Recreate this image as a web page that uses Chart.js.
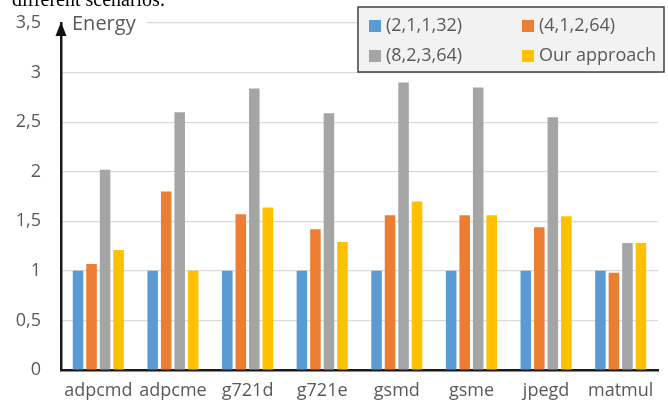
<!DOCTYPE html>
<html>
<head>
<meta charset="utf-8">
<script src="https://cdn.jsdelivr.net/npm/chart.js@4/dist/chart.umd.min.js"></script>
<style>
html,body{margin:0;padding:0;background:#fff;}
canvas{display:block;}
</style>
</head>
<body>
<canvas id="c" width="668" height="409"></canvas>
<script>
const categories = ['adpcmd','adpcme','g721d','g721e','gsmd','gsme','jpegd','matmul'];
const seriesLabels = ['(2,1,1,32)','(4,1,2,64)','(8,2,3,64)','Our approach'];
const s1 = [1, 1, 1, 1, 1, 1, 1, 1];
const s2 = [1.07, 1.80, 1.57, 1.42, 1.56, 1.56, 1.44, 0.98];
const s3 = [2.02, 2.60, 2.84, 2.59, 2.90, 2.85, 2.55, 1.28];
const s4 = [1.21, 1.00, 1.64, 1.29, 1.70, 1.56, 1.55, 1.28];
const yTicks = [0, 0.5, 1, 1.5, 2, 2.5, 3, 3.5];
const colors = ['#5b9bd5','#ed7d31','#a5a5a5','#ffc000'];
const FONT = '"Open Sans", sans-serif';
const TXT = '#595959';

const extras = {
  id: 'extras',
  afterDraw(chart) {
    const ctx = chart.ctx;
    const ca = chart.chartArea;
    const y = chart.scales.y;
    ctx.save();
    const y35 = y.getPixelForValue(3.5);
    ctx.fillStyle = '#fff';
    ctx.fillRect(ca.left + 2, y35 - 3, 84, 6);
    ctx.fillStyle = '#111';
    ctx.beginPath();
    ctx.moveTo(ca.left, y35 - 1);
    ctx.lineTo(ca.left - 5.5, y35 + 13);
    ctx.lineTo(ca.left + 5.5, y35 + 13);
    ctx.closePath();
    ctx.fill();
    ctx.fillStyle = TXT;
    ctx.font = '20px ' + FONT;
    ctx.textBaseline = 'middle';
    ctx.textAlign = 'left';
    ctx.fillText('Energy', ca.left + 11, y35 + 1);
    ctx.fillStyle = '#000';
    ctx.font = '20px "Liberation Serif", serif';
    ctx.textBaseline = 'alphabetic';
    ctx.fillText('different scenarios.', 12, 6);
    const bx = 358, by = 7, bw = 306, bh = 65;
    ctx.fillStyle = '#f2f2f2';
    ctx.fillRect(bx, by, bw, bh);
    ctx.strokeStyle = '#404040';
    ctx.lineWidth = 1.5;
    ctx.strokeRect(bx, by, bw, bh);
    const pos = [[369, 26], [522, 26], [369, 56], [522, 56]];
    ctx.font = '18px ' + FONT;
    ctx.textBaseline = 'middle';
    chart.data.datasets.forEach((ds, i) => {
      const [px, py] = pos[i];
      ctx.fillStyle = ds.backgroundColor;
      ctx.fillRect(px, py - 6, 12, 12);
      ctx.fillStyle = TXT;
      ctx.fillText(ds.label, px + 17, py);
    });
    ctx.restore();
  }
};

new Chart(document.getElementById('c'), {
  type: 'bar',
  data: {
    labels: categories,
    datasets: [s1, s2, s3, s4].map((d, i) => ({
      label: seriesLabels[i],
      data: d,
      backgroundColor: colors[i],
      borderWidth: 0,
      categoryPercentage: 0.724,
      barPercentage: 0.78
    }))
  },
  options: {
    responsive: false,
    animation: false,
    layout: { padding: { top: 23, right: 10, bottom: 0, left: 0 } },
    plugins: { legend: { display: false }, tooltip: { enabled: false } },
    scales: {
      x: {
        afterFit(scale) { scale.height = 39; scale.paddingLeft = 0; scale.paddingRight = 0; },
        grid: { display: false, drawTicks: false },
        border: { display: true, color: '#1a1a1a', width: 2.5 },
        ticks: { color: TXT, font: { family: FONT, size: 18 }, padding: 10, maxRotation: 0, autoSkip: false }
      },
      y: {
        min: 0, max: 3.5,
        afterFit(scale) { scale.width = 61; scale.paddingTop = 0; scale.paddingBottom = 0; },
        afterBuildTicks(scale) { scale.ticks = yTicks.map(v => ({ value: v })); },
        grid: { color: '#d9d9d9', lineWidth: 1.2, drawTicks: false },
        border: { display: true, color: '#1a1a1a', width: 2.5 },
        ticks: {
          color: TXT, font: { family: FONT, size: 18 }, padding: 20,
          callback: v => String(v).replace('.', ',')
        }
      }
    }
  },
  plugins: [extras]
});
</script>
</body>
</html>
